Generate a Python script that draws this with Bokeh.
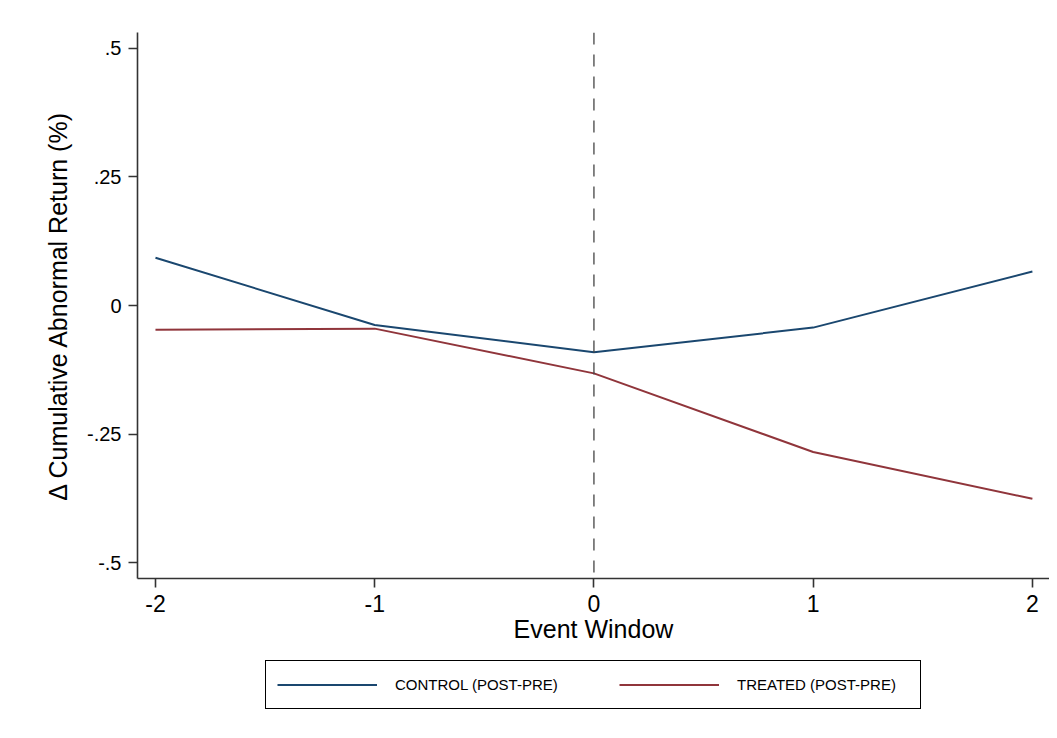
from bokeh.plotting import figure
from bokeh.models import Range1d, FixedTicker, Span, Legend, LegendItem
from bokeh.layouts import column
from bokeh.embed import file_html
from bokeh.resources import INLINE

# ---- data ----
event_window = [-2, -1, 0, 1, 2]
control = [0.093, -0.038, -0.091, -0.043, 0.066]
treated = [-0.047, -0.045, -0.132, -0.285, -0.376]
y_ticks = [-0.5, -0.25, 0, 0.25, 0.5]
y_tick_labels = ["-.5", "-.25", "0", ".25", ".5"]
x_ticks = [-2, -1, 0, 1, 2]
x_tick_labels = ["-2", "-1", "0", "1", "2"]
series_names = ["CONTROL (POST-PRE)", "TREATED (POST-PRE)"]

FONT = "Liberation Sans"
NAVY = "#1a476f"
MAROON = "#90353b"
AX = "#333333"

p = figure(width=1049, height=660, output_backend="svg", toolbar_location=None,
           x_range=Range1d(-2.082, 2.078), y_range=Range1d(-0.531, 0.531),
           min_border_left=137, min_border_top=32, min_border_bottom=82,
           min_border_right=0)
p.outline_line_color = None
p.xgrid.visible = False
p.ygrid.visible = False
p.background_fill_color = "white"
p.border_fill_color = "white"

# axes
p.xaxis.ticker = FixedTicker(ticks=x_ticks)
p.yaxis.ticker = FixedTicker(ticks=y_ticks)
p.xaxis.major_label_overrides = {t: l for t, l in zip(x_ticks, x_tick_labels)}
p.yaxis.major_label_overrides = {t: l for t, l in zip(y_ticks, y_tick_labels)}
for ax in (p.xaxis, p.yaxis):
    ax.axis_line_color = AX
    ax.axis_line_width = 1.6
    ax.major_tick_line_color = AX
    ax.major_tick_line_width = 1.6
    ax.major_tick_out = 9
    ax.major_tick_in = 0
    ax.minor_tick_line_color = None
    ax.major_label_text_font = FONT
    ax.major_label_text_color = "black"
    ax.axis_label_text_font = FONT
    ax.axis_label_text_font_style = "normal"
    ax.axis_label_text_color = "black"
    ax.axis_label_text_font_size = "25px"
p.xaxis.major_label_text_font_size = "23px"
p.yaxis.major_label_text_font_size = "20px"
p.yaxis.major_label_orientation = "horizontal"
p.xaxis.major_label_standoff = 7
p.yaxis.major_label_standoff = 7
p.xaxis.axis_label = "Event Window"
p.yaxis.axis_label = "\u0394 Cumulative Abnormal Return (%)"
p.xaxis.axis_label_standoff = 0
p.yaxis.axis_label_standoff = 12

# dashed vertical line at event date
p.add_layout(Span(location=0, dimension="height", line_color="#444444",
                  line_width=1.3, line_dash="12 10"))

r1 = p.line(event_window, control, line_color=NAVY, line_width=2)
r2 = p.line(event_window, treated, line_color=MAROON, line_width=2)

# ---- legend strip (separate figure below the plot) ----
q = figure(width=1049, height=62, output_backend="svg", toolbar_location=None,
           x_axis_type=None, y_axis_type=None,
           x_range=Range1d(100, 101), y_range=Range1d(100, 101),
           min_border_left=0, min_border_right=0, min_border_top=0,
           min_border_bottom=0)
q.outline_line_color = None
q.xgrid.visible = False
q.ygrid.visible = False
q.border_fill_color = "white"
l1 = q.line(event_window, control, line_color=NAVY, line_width=2)
l2 = q.line(event_window, treated, line_color=MAROON, line_width=2)

legend = Legend(items=[LegendItem(label=series_names[0], renderers=[l1]),
                       LegendItem(label=series_names[1], renderers=[l2])],
                orientation="horizontal", location=(128, 13),
                glyph_width=100, glyph_height=25, label_standoff=18,
                label_width=172, spacing=52, padding=11, margin=0,
                label_text_font=FONT, label_text_font_size="15px",
                label_text_color="black",
                border_line_color="black", border_line_alpha=1,
                border_line_width=1.2,
                background_fill_color="white", background_fill_alpha=1)
q.add_layout(legend, "center")

open("out.html", "w").write(file_html(column(p, q, spacing=0), INLINE))
